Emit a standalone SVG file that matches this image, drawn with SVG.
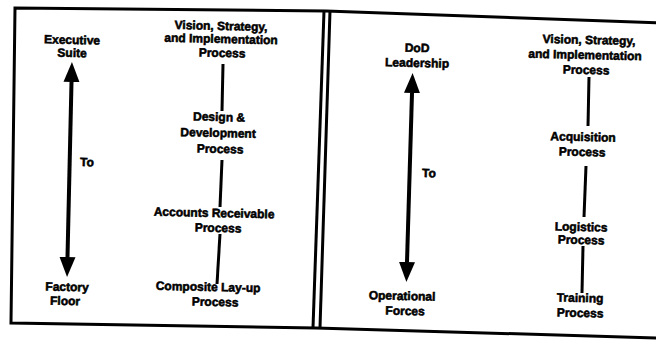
<svg xmlns="http://www.w3.org/2000/svg" width="656" height="341" viewBox="0 0 656 341">
  <style>
    .lbl { font-family: "Liberation Sans", Arial, sans-serif; font-size: 12px; font-weight: bold; fill: #000; stroke: #000; stroke-width: 0.55; text-anchor: middle; }
    .to { text-anchor: start; }
    .frame { fill: none; stroke: #000; stroke-width: 3; stroke-linejoin: miter; }
    .link { stroke: #000; stroke-width: 3; fill: none; }
    .span { stroke: #000; stroke-width: 4; fill: none; marker-start: url(#head); marker-end: url(#head); }
  </style>
  <defs>
    <marker id="head" markerUnits="userSpaceOnUse" markerWidth="22" markerHeight="18" refX="0" refY="8" orient="auto-start-reverse" viewBox="0 0 22 16">
      <path d="M0,0 L20,8 L0,16 Z" fill="#000"/>
    </marker>
  </defs>
  <rect width="656" height="341" fill="#fff"/>

  <!-- outer frame with double divider -->
  <g id="frame">
    <polyline class="frame" points="660,23 326,11 15,8 11,323 316,328 660,338"/>
    <line class="frame" x1="324" y1="11" x2="313" y2="328"/>
    <line class="frame" x1="330" y1="11" x2="320" y2="328"/>
  </g>

  <!-- connectors -->
  <g id="connectors">
    <line class="span" x1="71.5" y1="82" x2="67.5" y2="257"/>
    <line class="link" x1="223" y1="64" x2="222" y2="111"/>
    <line class="link" x1="222" y1="160" x2="220" y2="207"/>
    <line class="link" x1="220" y1="234" x2="217" y2="284"/>

    <line class="span" x1="412" y1="93" x2="407" y2="262"/>
    <line class="link" x1="589" y1="77" x2="588" y2="126"/>
    <line class="link" x1="586" y1="166" x2="584" y2="217"/>
    <line class="link" x1="583" y1="246" x2="582" y2="293"/>
  </g>

  <!-- left panel -->
  <g id="executive-suite">
    <text class="lbl" x="72" y="44" transform="rotate(1.3 72 44)">Executive</text>
    <text class="lbl" x="72" y="57" transform="rotate(1.3 72 57)">Suite</text>
  </g>
  <g id="to-left">
    <text class="lbl to" x="80" y="166" transform="rotate(1.3 80 166)">To</text>
  </g>
  <g id="factory-floor">
    <text class="lbl" x="67" y="291" transform="rotate(1.3 67 291)">Factory</text>
    <text class="lbl" x="65" y="305" transform="rotate(1.3 65 305)">Floor</text>
  </g>
  <g id="vision-left">
    <text class="lbl" x="221" y="30" transform="rotate(1.3 221 30)">Vision, Strategy,</text>
    <text class="lbl" x="221" y="43" transform="rotate(1.3 221 43)">and Implementation</text>
    <text class="lbl" x="222" y="57" transform="rotate(1.3 222 57)">Process</text>
  </g>
  <g id="design-development">
    <text class="lbl" x="219" y="121" transform="rotate(1.3 219 121)">Design &amp;</text>
    <text class="lbl" x="218" y="137" transform="rotate(1.3 218 137)">Development</text>
    <text class="lbl" x="220" y="153" transform="rotate(1.3 220 153)">Process</text>
  </g>
  <g id="accounts-receivable">
    <text class="lbl" x="214" y="217" transform="rotate(1.3 214 217)">Accounts Receivable</text>
    <text class="lbl" x="218" y="232" transform="rotate(1.3 218 232)">Process</text>
  </g>
  <g id="composite-layup">
    <text class="lbl" x="208" y="291" transform="rotate(1.3 208 291)">Composite Lay-up</text>
    <text class="lbl" x="215" y="306" transform="rotate(1.3 215 306)">Process</text>
  </g>

  <!-- right panel -->
  <g id="dod-leadership">
    <text class="lbl" x="417" y="52" transform="rotate(1.3 417 52)">DoD</text>
    <text class="lbl" x="417" y="67" transform="rotate(1.3 417 67)">Leadership</text>
  </g>
  <g id="to-right">
    <text class="lbl to" x="422" y="177" transform="rotate(1.3 422 177)">To</text>
  </g>
  <g id="operational-forces">
    <text class="lbl" x="402" y="300" transform="rotate(1.3 402 300)">Operational</text>
    <text class="lbl" x="405" y="315" transform="rotate(1.3 405 315)">Forces</text>
  </g>
  <g id="vision-right">
    <text class="lbl" x="589" y="44" transform="rotate(1.3 589 44)">Vision, Strategy,</text>
    <text class="lbl" x="585" y="59" transform="rotate(1.3 585 59)">and Implementation</text>
    <text class="lbl" x="586" y="74" transform="rotate(1.3 586 74)">Process</text>
  </g>
  <g id="acquisition">
    <text class="lbl" x="583" y="141" transform="rotate(1.3 583 141)">Acquisition</text>
    <text class="lbl" x="582" y="156" transform="rotate(1.3 582 156)">Process</text>
  </g>
  <g id="logistics">
    <text class="lbl" x="581" y="231" transform="rotate(1.3 581 231)">Logistics</text>
    <text class="lbl" x="581" y="244" transform="rotate(1.3 581 244)">Process</text>
  </g>
  <g id="training">
    <text class="lbl" x="580" y="302" transform="rotate(1.3 580 302)">Training</text>
    <text class="lbl" x="580" y="317" transform="rotate(1.3 580 317)">Process</text>
  </g>
</svg>
